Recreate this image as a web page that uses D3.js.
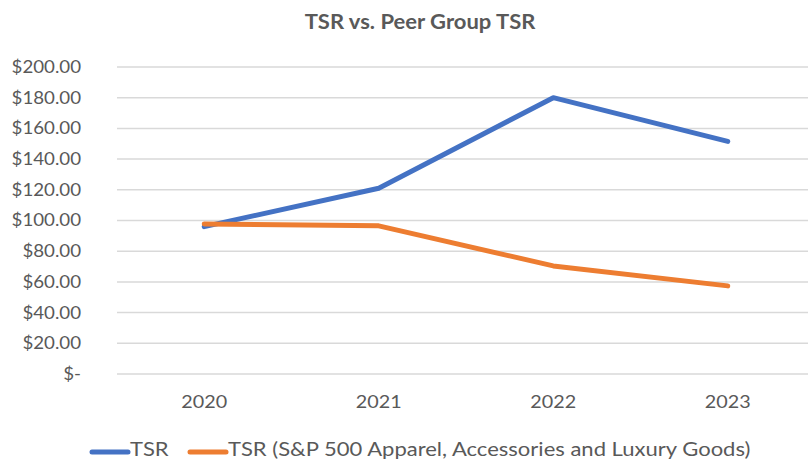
<!DOCTYPE html>
<html>
<head>
<meta charset="utf-8">
<script src="https://cdn.jsdelivr.net/npm/d3@7"></script>
<style>
  body { margin: 0; background: #fff; }
  svg { display: block; font-family: Lato, 'Open Sans', sans-serif; }
</style>
</head>
<body>
<svg id="chart" width="808" height="460"></svg>
<script>
const years = ['2020', '2021', '2022', '2023'];
const tsr = [96, 121, 180, 151.5];
const peerTsr = [97.8, 96.5, 70.4, 57.4];
const yTicks = [0, 20, 40, 60, 80, 100, 120, 140, 160, 180, 200];
const seriesNames = ['TSR', 'TSR (S&P 500 Apparel, Accessories and Luxury Goods)'];
const colors = ['#4472C4', '#ED7D31'];

const width = 808;
const height = 460;
const margin = { top: 67, right: -7, bottom: 86, left: 117 };

const svg = d3.select('#chart');

const x = d3.scalePoint()
  .domain(years)
  .range([margin.left, width - margin.right])
  .padding(0.5);

const y = d3.scaleLinear()
  .domain([0, 200])
  .range([height - margin.bottom, margin.top]);

// the source text is a little wider than Lato, stretch it horizontally
const place = (px, py, sx) => `translate(${px},${py}) scale(${sx},1)`;

// gridlines
svg.append('g')
  .selectAll('line')
  .data(yTicks)
  .join('line')
  .attr('x1', margin.left)
  .attr('x2', width - margin.right)
  .attr('y1', (d) => y(d))
  .attr('y2', (d) => y(d))
  .attr('stroke', '#d9d9d9')
  .attr('stroke-width', 1.5);

// y labels
const fmt = (d) => (d === 0 ? '$-' : `$${d.toFixed(2)}`);
svg.append('g')
  .selectAll('text')
  .data(yTicks)
  .join('text')
  .attr('transform', (d) => place(81, y(d), 1.1))
  .attr('dy', '0.35em')
  .attr('text-anchor', 'end')
  .attr('fill', '#595959')
  .attr('font-size', 17)
  .text(fmt);

// x labels
svg.append('g')
  .selectAll('text')
  .data(years)
  .join('text')
  .attr('transform', (d) => place(x(d), 402, 1.13))
  .attr('dy', '0.35em')
  .attr('text-anchor', 'middle')
  .attr('fill', '#595959')
  .attr('font-size', 17.5)
  .text((d) => d);

// title
svg.append('text')
  .attr('transform', place(420, 22, 1.1))
  .attr('dy', '0.35em')
  .attr('text-anchor', 'middle')
  .attr('fill', '#595959')
  .attr('font-size', 20)
  .attr('font-weight', 'bold')
  .text('TSR vs. Peer Group TSR');

const line = d3.line()
  .x((d, i) => x(years[i]))
  .y((d) => y(d));

[tsr, peerTsr].forEach((values, i) => {
  svg.append('path')
    .datum(values)
    .attr('fill', 'none')
    .attr('stroke', colors[i])
    .attr('stroke-width', 5)
    .attr('stroke-linejoin', 'round')
    .attr('stroke-linecap', 'round')
    .attr('d', line);
});

// legend
const legendX = [92, 190];
const legend = svg.append('g');
seriesNames.forEach((name, i) => {
  legend.append('line')
    .attr('x1', legendX[i])
    .attr('x2', legendX[i] + 36)
    .attr('y1', 452)
    .attr('y2', 452)
    .attr('stroke', colors[i])
    .attr('stroke-width', 5)
    .attr('stroke-linecap', 'round');
  legend.append('text')
    .attr('transform', place(legendX[i] + 38, 450, 1.19))
    .attr('dy', '0.35em')
    .attr('fill', '#595959')
    .attr('font-size', 18.5)
    .text(name);
});
</script>
</body>
</html>
